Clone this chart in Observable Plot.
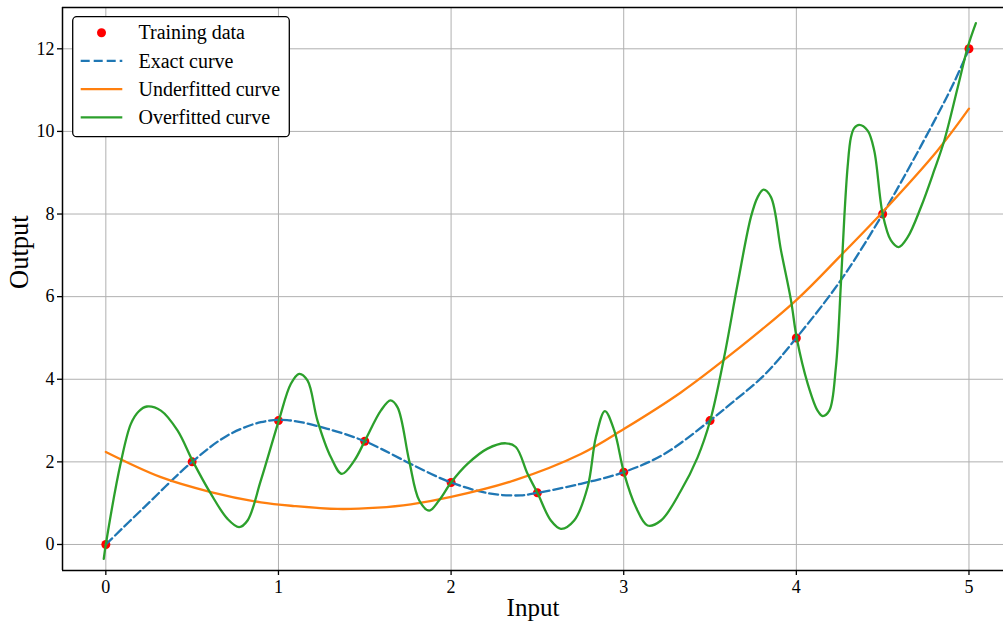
<!DOCTYPE html>
<html><head><meta charset="utf-8">
<script src="https://cdn.jsdelivr.net/npm/d3@7"></script>
<script src="https://cdn.jsdelivr.net/npm/@observablehq/plot@0.6"></script>
<style>body{margin:0;background:#fff} svg{display:block}</style>
</head><body><div id="chart"></div>
<script>
// ---- data ----
const trainX = [0, 0.5, 1, 1.5, 2, 2.5, 3, 3.5, 4, 4.5, 5];
const trainY = [0, 2, 3, 2.5, 1.5, 1.25, 1.75, 3, 5, 8, 12];

const exactX = [0, 0.222, 0.5, 0.705, 0.898, 1.05, 1.284, 1.5, 1.593, 1.767, 2.0, 2.23, 2.404, 2.5, 2.752, 3.0, 3.235, 3.5, 3.621, 3.814, 4.0, 4.258, 4.5, 4.722, 4.915, 5.0];
const exactY = [0, 0.90, 2.0, 2.64, 2.96, 3.01, 2.8, 2.5, 2.32, 1.95, 1.5, 1.23, 1.19, 1.25, 1.47, 1.75, 2.19, 3.0, 3.41, 4.1, 5.0, 6.4, 8.0, 9.65, 11.2, 12.0];

const underX = [0, 0.319, 0.608, 0.898, 1.091, 1.342, 1.574, 1.767, 2.0, 2.366, 2.752, 3.003, 3.331, 3.621, 4.003, 4.258, 4.5, 4.818, 5.0];
const underY = [2.24, 1.63, 1.27, 1.02, 0.93, 0.86, 0.89, 0.97, 1.15, 1.55, 2.19, 2.80, 3.68, 4.60, 5.93, 7.0, 8.05, 9.54, 10.55];

const overX = [-0.012, 0.0, 0.087, 0.145, 0.19, 0.238, 0.319, 0.415, 0.502, 0.608, 0.705, 0.772, 0.821, 0.898, 1.002, 1.072, 1.12, 1.168, 1.226, 1.304, 1.367, 1.439, 1.502, 1.593, 1.649, 1.69, 1.757, 1.815, 1.873, 1.931, 2.0, 2.095, 2.211, 2.317, 2.375, 2.443, 2.5, 2.578, 2.636, 2.713, 2.791, 2.839, 2.891, 2.945, 3.003, 3.071, 3.138, 3.216, 3.331, 3.428, 3.501, 3.582, 3.66, 3.737, 3.776, 3.81, 3.853, 3.911, 3.969, 4.003, 4.066, 4.123, 4.152, 4.191, 4.229, 4.258, 4.278, 4.297, 4.316, 4.335, 4.364, 4.413, 4.451, 4.5, 4.548, 4.593, 4.645, 4.722, 4.799, 4.857, 4.935, 4.993, 5.04];
const overY = [-0.35, 0.0, 1.99, 2.92, 3.22, 3.34, 3.24, 2.76, 2.03, 1.23, 0.62, 0.42, 0.58, 1.55, 3.0, 3.89, 4.13, 3.97, 3.0, 2.11, 1.71, 2.03, 2.52, 3.24, 3.49, 3.32, 2.03, 1.07, 0.82, 1.07, 1.5, 1.95, 2.32, 2.45, 2.36, 1.71, 1.25, 0.58, 0.38, 0.58, 1.39, 2.6, 3.23, 2.76, 1.71, 0.90, 0.46, 0.58, 1.30, 2.11, 3.0, 4.54, 6.31, 7.93, 8.41, 8.59, 8.41, 7.12, 5.91, 4.98, 3.89, 3.24, 3.11, 3.24, 4.29, 6.31, 7.93, 9.14, 9.85, 10.08, 10.16, 10.02, 9.54, 8.0, 7.36, 7.2, 7.44, 8.17, 9.06, 9.78, 11.07, 12.04, 12.62];

const xTicks = [0, 1, 2, 3, 4, 5];
const yTicks = [0, 2, 4, 6, 8, 10, 12];
const legendLabels = ["Training data", "Exact curve", "Underfitted curve", "Overfitted curve"];
const colors = {train: "red", exact: "#1f77b4", under: "#ff7f0e", over: "#2ca02c"};

const zip = (xs, ys) => xs.map((x, i) => ({x, y: ys[i]}));
const training = zip(trainX, trainY);
const exact = zip(exactX, exactY);
const under = zip(underX, underY);
const over = zip(overX, overY);

const xDom = [-0.251, 5.2], yDom = [-0.63, 13.0];
const font = "'Liberation Serif', 'Times New Roman', serif";
const lw = 2.3;

const plot = Plot.plot({
  width: 1003, height: 626,
  marginLeft: 62, marginRight: 0, marginTop: 7, marginBottom: 56,
  style: {fontFamily: font, fontSize: "18px", color: "#000", background: "#fff"},
  x: {domain: xDom},
  y: {domain: yDom},
  marks: [
    Plot.gridX(xTicks, {stroke: "#b0b0b0", strokeOpacity: 1, strokeWidth: 1}),
    Plot.gridY(yTicks, {stroke: "#b0b0b0", strokeOpacity: 1, strokeWidth: 1}),
    Plot.dot(training, {x: "x", y: "y", r: 4.5, fill: colors.train}),
    Plot.line(exact, {x: "x", y: "y", stroke: colors.exact, strokeWidth: lw, strokeDasharray: "9,4", curve: "catmull-rom"}),
    Plot.line(under, {x: "x", y: "y", stroke: colors.under, strokeWidth: lw, curve: "catmull-rom"}),
    Plot.line(over, {x: "x", y: "y", stroke: colors.over, strokeWidth: lw, curve: "catmull-rom"}),
    Plot.ruleY(yDom, {stroke: "#000", strokeWidth: 1.5}),
    Plot.ruleX([xDom[0]], {stroke: "#000", strokeWidth: 1.5}),
    Plot.axisX(xTicks, {tickSize: 5, tickPadding: 5, label: null, strokeWidth: 1.3, tickFormat: d3.format("d")}),
    Plot.axisY(yTicks, {tickSize: 5, tickPadding: 3, label: null, strokeWidth: 1.3, tickFormat: d3.format("d")}),
    Plot.text(["Input"], {text: d => d, frameAnchor: "bottom", dy: 45, fontSize: 25}),
    Plot.text(["Output"], {text: d => d, frameAnchor: "left", dx: -43, rotate: -90, fontSize: 26.5})
  ]
});
document.getElementById("chart").appendChild(plot);

// ---- legend ----
const svg = d3.select(plot);
const lg = svg.append("g").attr("font-family", font).attr("font-size", 20)
  .attr("fill", "#000").attr("text-anchor", "start");
lg.append("rect").attr("x", 72.7).attr("y", 16.7).attr("width", 216.6).attr("height", 120)
  .attr("rx", 4).attr("fill", "#fff").attr("stroke", "#000").attr("stroke-width", 1.3);
const rowY = [32.7, 60.9, 89.1, 117.3];
const kinds = ["train", "exact", "under", "over"];
kinds.forEach((k, i) => {
  const y = rowY[i];
  if (k === "train") {
    lg.append("circle").attr("cx", 101.5).attr("cy", y).attr("r", 4.5).attr("fill", colors.train);
  } else {
    const l = lg.append("line").attr("x1", 80.7).attr("x2", 122.3).attr("y1", y).attr("y2", y)
      .attr("stroke", colors[k]).attr("stroke-width", lw);
    if (k === "exact") l.attr("stroke-dasharray", "9,4");
  }
  lg.append("text").attr("x", 138.5).attr("y", y).attr("dy", "0.33em").attr("text-anchor", "start").text(legendLabels[i]);
});
</script>
</body></html>
